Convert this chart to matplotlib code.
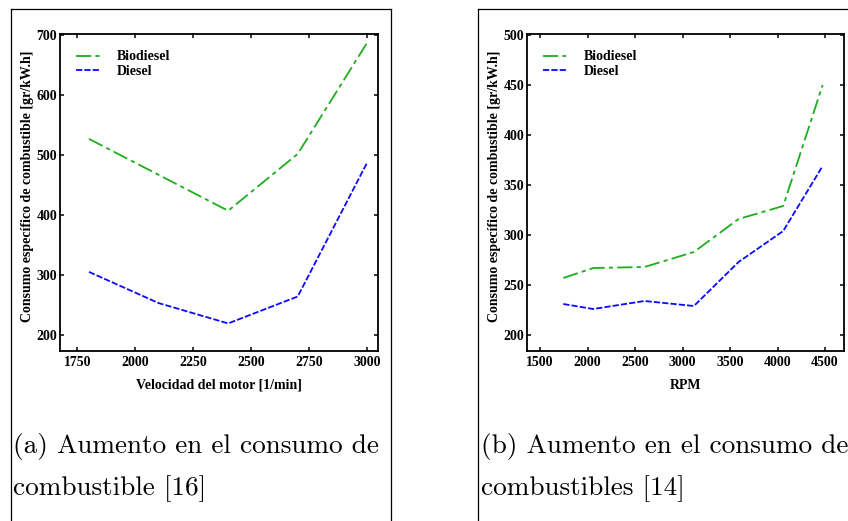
import numpy as np
import matplotlib
matplotlib.use('Agg')
import matplotlib.pyplot as plt
from matplotlib.lines import Line2D

plt.rcParams['font.family'] = 'Liberation Serif'
plt.rcParams['font.weight'] = 'bold'
plt.rcParams['lines.scale_dashes'] = False

# panel (a)
vel_a = [1800, 2100, 2400, 2700, 3000]
bio_a = [527, 467, 407, 502, 688]
die_a = [305, 253, 219, 264, 488]

# panel (b)
rpm_b = [1745, 2060, 2600, 3120, 3590, 4060, 4475]
bio_b = [257, 267, 268, 283, 316, 329, 450]
die_b = [231, 226, 234, 229, 273, 304, 369]

xt_a = [1750, 2000, 2250, 2500, 2750, 3000]
yt_a = [200, 300, 400, 500, 600, 700]
xt_b = [1500, 2000, 2500, 3000, 3500, 4000, 4500]
yt_b = [200, 250, 300, 350, 400, 450, 500]

ylab = 'Consumo específico de combustible [gr/kW.h]'
cap_a = ['(a) Aumento en el consumo de', 'combustible [16]']
cap_b = ['(b) Aumento en el consumo de', 'combustibles [14]']

green = '#1cae1c'
blue = '#0a0aff'
fs = 10

fig = plt.figure(figsize=(8.48, 5.21), dpi=100)
ax1 = fig.add_axes([60/848, 1-351/521, 318/848, 317/521])
ax2 = fig.add_axes([527/848, 1-351/521, 317/848, 317/521])


def setup(ax, x, bio, die, xt, yt, xlim, ylim, xlabel):
    ax.plot(x, bio, color=green, lw=1.3, dashes=(11, 3, 3, 3), label='Biodiesel')
    ax.plot(x, die, color=blue, lw=1.3, dashes=(4.5, 1.5), label='Diesel')
    ax.set_xlim(xlim)
    ax.set_ylim(ylim)
    ax.set_xticks(xt)
    ax.set_yticks(yt)
    ax.tick_params(direction='in', length=3, width=1.1, top=True, right=True,
                   labelsize=fs)
    ax.tick_params(axis='x', pad=3.5)
    ax.tick_params(axis='y', pad=2)
    for s in ax.spines.values():
        s.set_linewidth(1.3)
    ax.set_xlabel(xlabel, fontsize=fs, fontweight='bold', labelpad=7)
    ax.set_ylabel(ylab, fontsize=fs, fontweight='bold', labelpad=2)
    ax.yaxis.label.set_y(0.52)
    ax.legend(loc='upper left', bbox_to_anchor=(0.05, 0.948), frameon=False,
              fontsize=fs, handlelength=1.7, handletextpad=1.25,
              labelspacing=0.08, borderpad=0, borderaxespad=0)


setup(ax1, vel_a, bio_a, die_a, xt_a, yt_a, (1675, 3046), (173, 702),
      'Velocidad del motor [1/min]')
setup(ax2, rpm_b, bio_b, die_b, xt_b, yt_b, (1363, 4700), (184, 501), 'RPM')

# subfigure frames
fr = dict(color='black', lw=0.9, transform=fig.transFigure)
fig.add_artist(Line2D([11/848, 11/848], [0, 1-8.5/521], **fr))
fig.add_artist(Line2D([11/848, 391/848], [1-8.5/521, 1-8.5/521], **fr))
fig.add_artist(Line2D([391/848, 391/848], [0, 1-8.5/521], **fr))
fig.add_artist(Line2D([478/848, 478/848], [0, 1-8.5/521], **fr))
fig.add_artist(Line2D([478/848, 1], [1-8.5/521, 1-8.5/521], **fr))

# captions
for i, (ca, cb) in enumerate(zip(cap_a, cap_b)):
    yy = 1 - (453 + 42*i)/521
    fig.text(13/848, yy, ca, family='cmr10', fontweight='normal', fontsize=19.6,
             va='baseline')
    fig.text(481/848, yy, cb, family='cmr10', fontweight='normal', fontsize=19.6,
             va='baseline')

fig.savefig('out.png', dpi=100)
